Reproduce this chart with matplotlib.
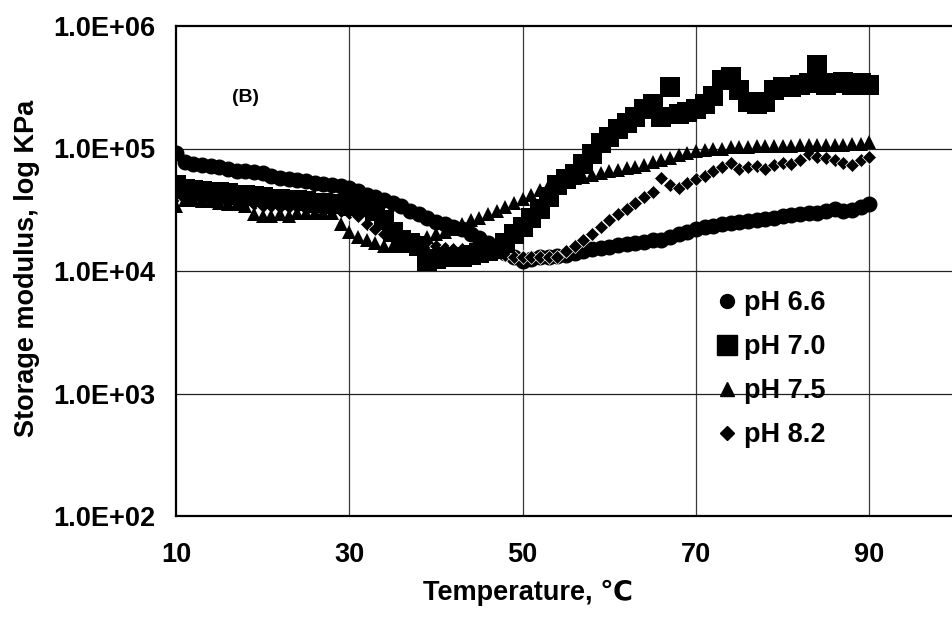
import matplotlib
matplotlib.use("Agg")
import matplotlib.pyplot as plt
from matplotlib.lines import Line2D
from matplotlib.ticker import FixedLocator, NullLocator

plt.rcParams['font.family'] = ['Liberation Sans', 'DejaVu Sans']
plt.rcParams['font.weight'] = 'bold'

temperature = list(range(10, 91))

ph66 = [9.2e4, 7.8e4, 7.5e4, 7.3e4, 7.2e4, 7.0e4, 6.8e4, 6.6e4, 6.5e4, 6.4e4,
        6.3e4, 6.0e4, 5.7e4, 5.6e4, 5.5e4, 5.4e4, 5.2e4, 5.1e4, 5.0e4, 4.9e4,
        4.8e4, 4.5e4, 4.2e4, 4.0e4, 3.8e4, 3.6e4, 3.4e4, 3.1e4, 2.9e4, 2.7e4,
        2.5e4, 2.4e4, 2.3e4, 2.2e4, 2.0e4, 1.85e4, 1.7e4, 1.55e4, 1.4e4, 1.3e4,
        1.2e4, 1.25e4, 1.3e4, 1.3e4, 1.32e4, 1.35e4, 1.4e4, 1.45e4, 1.5e4, 1.55e4,
        1.58e4, 1.62e4, 1.65e4, 1.7e4, 1.73e4, 1.78e4, 1.8e4, 1.9e4, 2.0e4, 2.1e4,
        2.2e4, 2.3e4, 2.35e4, 2.4e4, 2.45e4, 2.5e4, 2.55e4, 2.6e4, 2.65e4, 2.7e4,
        2.8e4, 2.85e4, 2.9e4, 2.95e4, 3.0e4, 3.1e4, 3.2e4, 3.1e4, 3.15e4, 3.3e4,
        3.5e4]

ph70 = [5.0e4, 4.7e4, 4.6e4, 4.5e4, 4.4e4, 4.4e4, 4.3e4, 4.2e4, 4.2e4, 4.1e4,
        4.0e4, 3.9e4, 3.9e4, 3.8e4, 3.8e4, 3.7e4, 3.6e4, 3.6e4, 3.5e4, 3.5e4,
        3.4e4, 3.4e4, 3.3e4, 3.1e4, 2.6e4, 2.1e4, 1.8e4, 1.7e4, 1.6e4, 1.2e4,
        1.25e4, 1.3e4, 1.3e4, 1.3e4, 1.35e4, 1.4e4, 1.45e4, 1.5e4, 1.7e4, 2.0e4,
        2.3e4, 2.7e4, 3.2e4, 4.0e4, 5.0e4, 5.6e4, 6.2e4, 7.5e4, 9.0e4, 1.1e5,
        1.25e5, 1.45e5, 1.6e5, 1.8e5, 2.1e5, 2.3e5, 1.8e5, 3.2e5, 1.9e5, 2.0e5,
        2.1e5, 2.3e5, 2.7e5, 3.6e5, 3.8e5, 3.0e5, 2.4e5, 2.3e5, 2.4e5, 3.0e5,
        3.2e5, 3.2e5, 3.3e5, 3.4e5, 4.8e5, 3.3e5, 3.4e5, 3.5e5, 3.3e5, 3.4e5,
        3.3e5]

ph75 = [3.4e4, 3.8e4, 3.8e4, 3.7e4, 3.7e4, 3.6e4, 3.5e4, 3.5e4, 3.4e4, 2.9e4,
        2.8e4, 2.8e4, 2.9e4, 2.8e4, 3.0e4, 3.0e4, 3.0e4, 3.0e4, 3.0e4, 2.4e4,
        2.1e4, 1.9e4, 1.8e4, 1.7e4, 1.6e4, 1.6e4, 1.6e4, 1.7e4, 1.8e4, 1.9e4,
        2.0e4, 2.1e4, 2.2e4, 2.4e4, 2.6e4, 2.7e4, 2.9e4, 3.1e4, 3.3e4, 3.6e4,
        3.9e4, 4.2e4, 4.6e4, 5.0e4, 5.3e4, 5.5e4, 5.7e4, 5.9e4, 6.1e4, 6.3e4,
        6.5e4, 6.7e4, 6.9e4, 7.1e4, 7.4e4, 7.7e4, 8.0e4, 8.4e4, 8.8e4, 9.2e4,
        9.6e4, 9.8e4, 1.0e5, 1.0e5, 1.02e5, 1.03e5, 1.03e5, 1.04e5, 1.04e5, 1.05e5,
        1.05e5, 1.05e5, 1.06e5, 1.06e5, 1.06e5, 1.07e5, 1.07e5, 1.07e5, 1.08e5, 1.08e5,
        1.12e5]

ph82 = [4.0e4, 3.9e4, 3.8e4, 3.8e4, 3.7e4, 3.7e4, 3.6e4, 3.6e4, 3.5e4, 3.5e4,
        3.4e4, 3.4e4, 3.3e4, 3.3e4, 3.3e4, 3.2e4, 3.2e4, 3.2e4, 3.1e4, 3.1e4,
        3.0e4, 2.8e4, 2.4e4, 2.2e4, 2.0e4, 1.9e4, 1.8e4, 1.75e4, 1.7e4, 1.65e4,
        1.6e4, 1.55e4, 1.5e4, 1.5e4, 1.45e4, 1.4e4, 1.4e4, 1.4e4, 1.35e4, 1.3e4,
        1.3e4, 1.3e4, 1.3e4, 1.3e4, 1.3e4, 1.45e4, 1.6e4, 1.8e4, 2.0e4, 2.3e4,
        2.6e4, 2.9e4, 3.2e4, 3.6e4, 4.0e4, 4.4e4, 5.7e4, 5.0e4, 4.8e4, 5.2e4,
        5.6e4, 6.0e4, 6.5e4, 7.0e4, 7.6e4, 6.8e4, 7.0e4, 7.2e4, 6.8e4, 7.4e4,
        7.6e4, 7.5e4, 8.0e4, 9.0e4, 8.6e4, 8.4e4, 8.0e4, 7.6e4, 7.4e4, 8.0e4,
        8.6e4]

labels = ['pH 6.6', 'pH 7.0', 'pH 7.5', 'pH 8.2']
ytick_vals = [1e2, 1e3, 1e4, 1e5, 1e6]
ytick_labels = ['1.0E+02', '1.0E+03', '1.0E+04', '1.0E+05', '1.0E+06']
xtick_vals = [10, 30, 50, 70, 90]

FS = 19.5
W, H = 953, 617
fig = plt.figure(figsize=(W / 100, H / 100), dpi=100)
ax = fig.add_axes([176 / W, 1 - 516 / H, (956 - 176) / W, (516 - 26) / H])

ax.set_yscale('log')
ax.set_xlim(10, 100)
ax.set_ylim(1e2, 1e6)

# grid
for xv in xtick_vals[1:]:
    ax.axvline(xv, color='#3a3a3a', lw=0.9, zorder=1)
for yv in ytick_vals[1:-1]:
    ax.axhline(yv, color='#202020', lw=0.9, zorder=1)

ax.plot(temperature, ph66, ls='none', marker='o', ms=10.5, color='black', mec='black', zorder=3)
ax.plot(temperature, ph82, ls='none', marker='D', ms=7.5, color='black', mec='white', mew=0.5, zorder=4)
ax.plot(temperature, ph75, ls='none', marker='^', ms=10, color='black', mec='black', mew=0, zorder=5)
ax.plot(temperature, ph70, ls='none', marker='s', ms=14, color='black', mec='black', mew=0, zorder=6)

ax.yaxis.set_major_locator(FixedLocator(ytick_vals))
ax.yaxis.set_minor_locator(NullLocator())
ax.set_yticklabels(ytick_labels)
ax.set_xticks(xtick_vals)
ax.set_xticklabels([str(v) for v in xtick_vals])
ax.tick_params(axis='both', length=0, labelsize=FS)
ax.tick_params(axis='y', pad=15)
ax.tick_params(axis='x', pad=19)
for lab in ax.get_xticklabels() + ax.get_yticklabels():
    lab.set_fontweight('bold')

for s in ['left', 'top', 'bottom']:
    ax.spines[s].set_linewidth(1.6)
    ax.spines[s].set_color('black')
ax.spines['right'].set_visible(False)

ax.set_xlabel('Temperature, ℃', fontsize=FS, fontweight='bold')
ax.xaxis.set_label_coords((528 - 176) / 780, (516 - 580) / 490)
ax.set_ylabel('Storage modulus, log KPa', fontsize=FS, fontweight='bold')
ax.yaxis.set_label_coords((40 - 176) / 780, (516 - 268) / 490)

ax.text(18, 2.6e5, '(B)', fontsize=14, fontweight='bold', ha='center', va='center')

handles = [
    Line2D([], [], ls='none', marker='o', ms=10, color='black'),
    Line2D([], [], ls='none', marker='s', ms=14, color='black'),
    Line2D([], [], ls='none', marker='^', ms=10, color='black'),
    Line2D([], [], ls='none', marker='D', ms=7.5, color='black'),
]
leg = ax.legend(handles, labels, loc='upper left', bbox_to_anchor=(716 / W, 1 - 290 / H),
                bbox_transform=fig.transFigure, frameon=False, handlelength=0.8,
                handletextpad=0.25, labelspacing=0.67, borderpad=0, borderaxespad=0,
                prop={'size': FS, 'weight': 'bold'})

fig.savefig('out.png', dpi=100)
